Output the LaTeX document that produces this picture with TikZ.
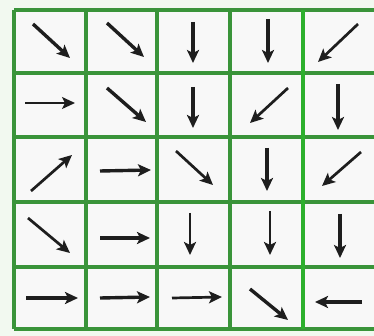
\documentclass[tikz,border=0pt]{standalone}
\usetikzlibrary{arrows.meta}
\definecolor{gridgreen}{HTML}{3A943A}
\definecolor{brightgreen}{HTML}{2DB02D}
\definecolor{bgtint}{HTML}{F2F9F0}
\definecolor{cellbg}{HTML}{F8F8F8}
\definecolor{ink}{HTML}{1E1E1E}
\tikzset{
  gridline/.style={draw=gridgreen, line width=4.5pt},
  vec/.style={draw=ink, line width=3.4pt, -{Stealth[length=13pt,width=12pt,inset=3pt]}},
  thinvec/.style={vec, line width=1.7pt},
  midvec/.style={vec, line width=2.7pt}
}
\begin{document}
\begin{tikzpicture}[x=1pt,y=-1pt]
\useasboundingbox (0,0) rectangle (374,336);
\fill[bgtint] (0,0) rectangle (374,336);
\fill[cellbg] (14,10) rectangle (374,329);
\begin{scope}
\clip (0,0) rectangle (374,336);
% grid
\foreach \y in {10,73,137,202,267,329} \draw[gridline] (14,\y) -- (378,\y);
\foreach \x in {14,86,157,230} \draw[gridline] (\x,10) -- (\x,329);
\draw[gridline, draw=brightgreen] (303,10) -- (303,329);
\draw[gridline] (377,10) -- (377,329);
\end{scope}
% row 1
\draw[vec] (33,24) -- (70,58);
\draw[vec] (107,23) -- (144,57);
\draw[vec] (193,22) -- (193,63);
\draw[vec] (268,19) -- (268,63);
\draw[midvec] (358,24) -- (318,62);
% row 2
\draw[thinvec] (25,103) -- (75,103);
\draw[vec] (107,88) -- (146,122);
\draw[vec] (193,87) -- (193,128);
\draw[midvec] (288,88) -- (250,123);
\draw[vec] (338,84) -- (338,130);
% row 3
\draw[midvec] (31,191) -- (72,155);
\draw[vec] (100,171) -- (151,170);
\draw[midvec] (176,151) -- (213,185);
\draw[vec] (267,148) -- (267,191);
\draw[midvec] (361,152) -- (322,186);
% row 4
\draw[midvec] (28,218) -- (70,253);
\draw[vec] (100,238) -- (150,238);
\draw[midvec] (190,213) -- (190,255);
\draw[midvec] (270,211) -- (270,255);
\draw[vec] (340,214) -- (340,258);
% row 5
\draw[vec] (26,298) -- (78,298);
\draw[vec] (100,298) -- (150,297);
\draw[midvec] (172,298) -- (222,297);
\draw[vec] (250,289) -- (288,320);
\draw[vec] (362,302) -- (315,302);
\end{tikzpicture}
\end{document}
